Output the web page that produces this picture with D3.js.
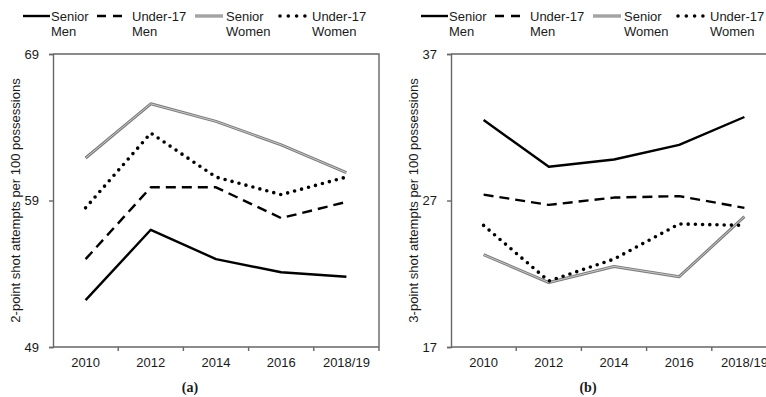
<!DOCTYPE html>
<html>
<head>
<meta charset="utf-8">
<script src="https://cdn.jsdelivr.net/npm/d3@7"></script>
<style>
  html, body { margin: 0; padding: 0; background: #fff; }
  svg { display: block; }
  text { font-family: "Liberation Sans", Arial, sans-serif; fill: #1a1a1a; }
</style>
</head>
<body>
<svg id="chart" width="766" height="397"></svg>
<script>
// Seasons on the x axis
const categories = ["2010", "2012", "2014", "2016", "2018/19"];

// Legend entries (two lines each)
const seriesKeys = ["seniorMen", "u17Men", "seniorWomen", "u17Women"];
const legendLine1 = ["Senior", "Under-17", "Senior", "Under-17"];
const legendLine2 = ["Men", "Men", "Women", "Women"];

// (a) 2-point shot attempts per 100 possessions
const twoPtSeniorMen   = [52.2, 57.0, 55.0, 54.1, 53.8];
const twoPtU17Men      = [55.0, 59.9, 59.9, 57.8, 58.9];
const twoPtSeniorWomen = [61.9, 65.6, 64.4, 62.8, 60.9];
const twoPtU17Women    = [58.5, 63.6, 60.6, 59.4, 60.6];
const twoPtTicks = [49, 59, 69];

// (b) 3-point shot attempts per 100 possessions
const threePtSeniorMen   = [32.5, 29.3, 29.8, 30.8, 32.7];
const threePtU17Men      = [27.4, 26.7, 27.2, 27.3, 26.5];
const threePtSeniorWomen = [23.3, 21.4, 22.5, 21.8, 25.9];
const threePtU17Women    = [25.3, 21.5, 23.0, 25.4, 25.3];
const threePtTicks = [17, 27, 37];

const panels = [
  {
    tag: "(a)",
    title: "2-point shot attempts per 100 possessions",
    ticks: twoPtTicks,
    series: { seniorMen: twoPtSeniorMen, u17Men: twoPtU17Men, seniorWomen: twoPtSeniorWomen, u17Women: twoPtU17Women },
    left: 53, right: 379
  },
  {
    tag: "(b)",
    title: "3-point shot attempts per 100 possessions",
    ticks: threePtTicks,
    series: { seniorMen: threePtSeniorMen, u17Men: threePtU17Men, seniorWomen: threePtSeniorWomen, u17Women: threePtU17Women },
    left: 451, right: 777
  }
];

const plotTop = 54, plotBottom = 347;
const axisColor = "#666";
const fontSize = "13px";

// Line styles per series
const styles = {
  seniorMen:   [{ stroke: "#000", width: 2.4, dash: null }],
  u17Men:      [{ stroke: "#000", width: 2.4, dash: "10,6" }],
  seniorWomen: [{ stroke: "#7d7d7d", width: 3, dash: null }, { stroke: "#c9c9c9", width: 1, dash: null }],
  u17Women:    [{ stroke: "#000", width: 3.6, dash: "0,7.2", cap: "round" }]
};
// Legend sample positions relative to the panel's y axis
const legendSamples = [
  { x1: -30, x2: -3, text: -2, dash: null },
  { x1: 44, x2: 69, text: 79, dash: "9,7" },
  { x1: 142, x2: 170, text: 173, dash: null },
  { x1: 227, x2: 252, text: 259, dash: "0,8.3" }
];

const svg = d3.select("#chart");

panels.forEach(p => {
  const g = svg.append("g");
  const x = d3.scaleBand().domain(categories).range([p.left, p.right]);
  const y = d3.scaleLinear().domain([p.ticks[0], p.ticks[p.ticks.length - 1]]).range([plotBottom, plotTop]);
  const cx = c => x(c) + x.bandwidth() / 2;

  // Frame: top and right edges
  g.append("path")
    .attr("d", `M${p.left},${plotTop}H${p.right}V${plotBottom}`)
    .attr("fill", "none").attr("stroke", axisColor).attr("stroke-width", 1.4);

  // Y axis
  const yAxis = g.append("g").attr("transform", `translate(${p.left},0)`)
    .call(d3.axisLeft(y).tickValues(p.ticks).tickSize(4).tickPadding(10).tickFormat(d3.format("d")));
  yAxis.select(".domain").attr("stroke", axisColor).attr("stroke-width", 1.4);
  yAxis.selectAll(".tick line").attr("stroke", axisColor).attr("stroke-width", 1.4);
  yAxis.selectAll("text").style("font-size", fontSize).style("font-family", "Liberation Sans, Arial, sans-serif").attr("fill", "#1a1a1a");

  // X axis: labels at category centres, ticks at category boundaries
  const xAxis = g.append("g").attr("transform", `translate(0,${plotBottom})`)
    .call(d3.axisBottom(x).tickSize(0).tickPadding(11));
  xAxis.select(".domain").remove();
  xAxis.selectAll("text").style("font-size", fontSize).style("font-family", "Liberation Sans, Arial, sans-serif").attr("fill", "#1a1a1a");
  g.append("line").attr("x1", p.left).attr("x2", p.right).attr("y1", plotBottom).attr("y2", plotBottom)
    .attr("stroke", axisColor).attr("stroke-width", 1.4);
  g.selectAll(".xb").data(categories).enter().append("line")
    .attr("x1", c => x(c) + x.bandwidth()).attr("x2", c => x(c) + x.bandwidth())
    .attr("y1", plotBottom).attr("y2", plotBottom + 4)
    .attr("stroke", axisColor).attr("stroke-width", 1.4);

  // Y axis title
  g.append("text")
    .attr("transform", `translate(${p.left - 33},${(plotTop + plotBottom) / 2}) rotate(-90)`)
    .attr("text-anchor", "middle")
    .style("font-size", fontSize)
    .text(p.title);

  // Panel tag
  g.append("text")
    .attr("x", p.left + 137).attr("y", 392)
    .attr("text-anchor", "middle")
    .style("font-family", "Liberation Serif, Times New Roman, serif")
    .style("font-size", "14px").style("font-weight", "bold")
    .text(p.tag);

  // Series lines
  const line = d3.line().x((d, i) => cx(categories[i])).y(d => y(d));
  seriesKeys.forEach(k => {
    styles[k].forEach(s => {
      g.append("path")
        .datum(p.series[k])
        .attr("d", line)
        .attr("fill", "none")
        .attr("stroke", s.stroke)
        .attr("stroke-width", s.width)
        .attr("stroke-dasharray", s.dash)
        .attr("stroke-linecap", s.cap || "butt")
        .attr("stroke-linejoin", "round");
    });
  });

  // Legend
  seriesKeys.forEach((k, i) => {
    const ls = legendSamples[i];
    styles[k].forEach(s => {
      g.append("line")
        .attr("x1", p.left + ls.x1).attr("x2", p.left + ls.x2)
        .attr("y1", 16).attr("y2", 16)
        .attr("stroke", s.stroke)
        .attr("stroke-width", s.width)
        .attr("stroke-dasharray", ls.dash)
        .attr("stroke-linecap", s.cap || "butt");
    });
    const t = g.append("text").style("font-size", fontSize);
    t.append("tspan").attr("x", p.left + ls.text).attr("y", 21).text(legendLine1[i]);
    t.append("tspan").attr("x", p.left + ls.text).attr("y", 36).text(legendLine2[i]);
  });
});
</script>
</body>
</html>
